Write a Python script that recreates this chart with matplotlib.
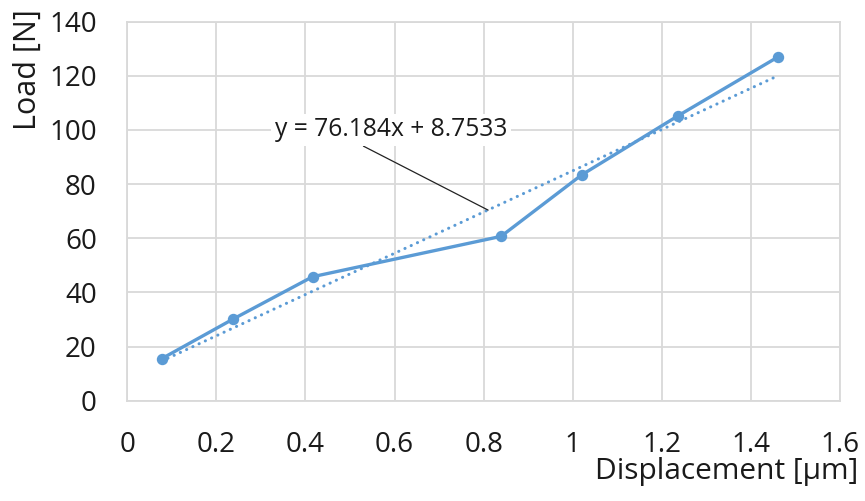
import matplotlib
matplotlib.use("Agg")
import matplotlib.pyplot as plt
import numpy as np

plt.rcParams['font.family'] = ['Open Sans', 'DejaVu Sans']

displacement = [0.077, 0.238, 0.416, 0.839, 1.020, 1.237, 1.460]
load = [15.5, 30.2, 45.8, 60.7, 83.4, 105.3, 126.9]
slope = 76.184
intercept = 8.7533
xticks = [0, 0.2, 0.4, 0.6, 0.8, 1.0, 1.2, 1.4, 1.6]
xticklabels = ['0', '0.2', '0.4', '0.6', '0.8', '1', '1.2', '1.4', '1.6']
yticks = [0, 20, 40, 60, 80, 100, 120, 140]
eq_text = "y = 76.184x + 8.7533"

blue = '#5B9BD5'
grid = '#D9D9D9'

fig = plt.figure(figsize=(8.65, 5.01), dpi=100)
ax = fig.add_axes([0.1472, 0.2002, 0.9711 - 0.1472, 0.9567 - 0.2002])

xs = np.array([min(displacement), max(displacement)])
ax.plot(xs, slope * xs + intercept, linestyle=(0, (0.05, 2.2)), color=blue,
        linewidth=2.2, dash_capstyle='round', zorder=3)
ax.plot(displacement, load, color=blue, linewidth=2.4, marker='o',
        markersize=7.2, zorder=4)

ax.set_xlim(0, 1.6)
ax.set_ylim(0, 140)
ax.set_xticks(xticks)
ax.set_xticklabels(xticklabels)
ax.set_yticks(yticks)
ax.grid(True, color=grid, linewidth=1.3, zorder=0)
ax.set_axisbelow(True)
for s in ax.spines.values():
    s.set_color(grid)
    s.set_linewidth(1.3)
ax.tick_params(length=0, labelsize=20, colors='#1a1a1a')
ax.tick_params(axis='y', pad=22)
ax.tick_params(axis='x', pad=22)

ax.annotate(eq_text, xy=(0.810, 70.4), xytext=(0.592, 100),
            ha='center', va='center', fontsize=17.7, color='#1a1a1a',
            bbox=dict(boxstyle='square,pad=0.15', fc='white', ec='none'),
            arrowprops=dict(arrowstyle='-', color='#222222', linewidth=0.9,
                            shrinkA=0, shrinkB=0,
                            relpos=(0.34, 0.05)),
            zorder=5)

fig.text(858 / 865, 1 - 472 / 501, "Displacement [μm]", ha='right', va='center',
         fontsize=21.5, color='#1a1a1a')
fig.text(28 / 865, 1 - 9 / 501, "Load [N]", ha='center', va='top',
         rotation=90, fontsize=22, color='#1a1a1a')

fig.savefig('out.png', dpi=100)
